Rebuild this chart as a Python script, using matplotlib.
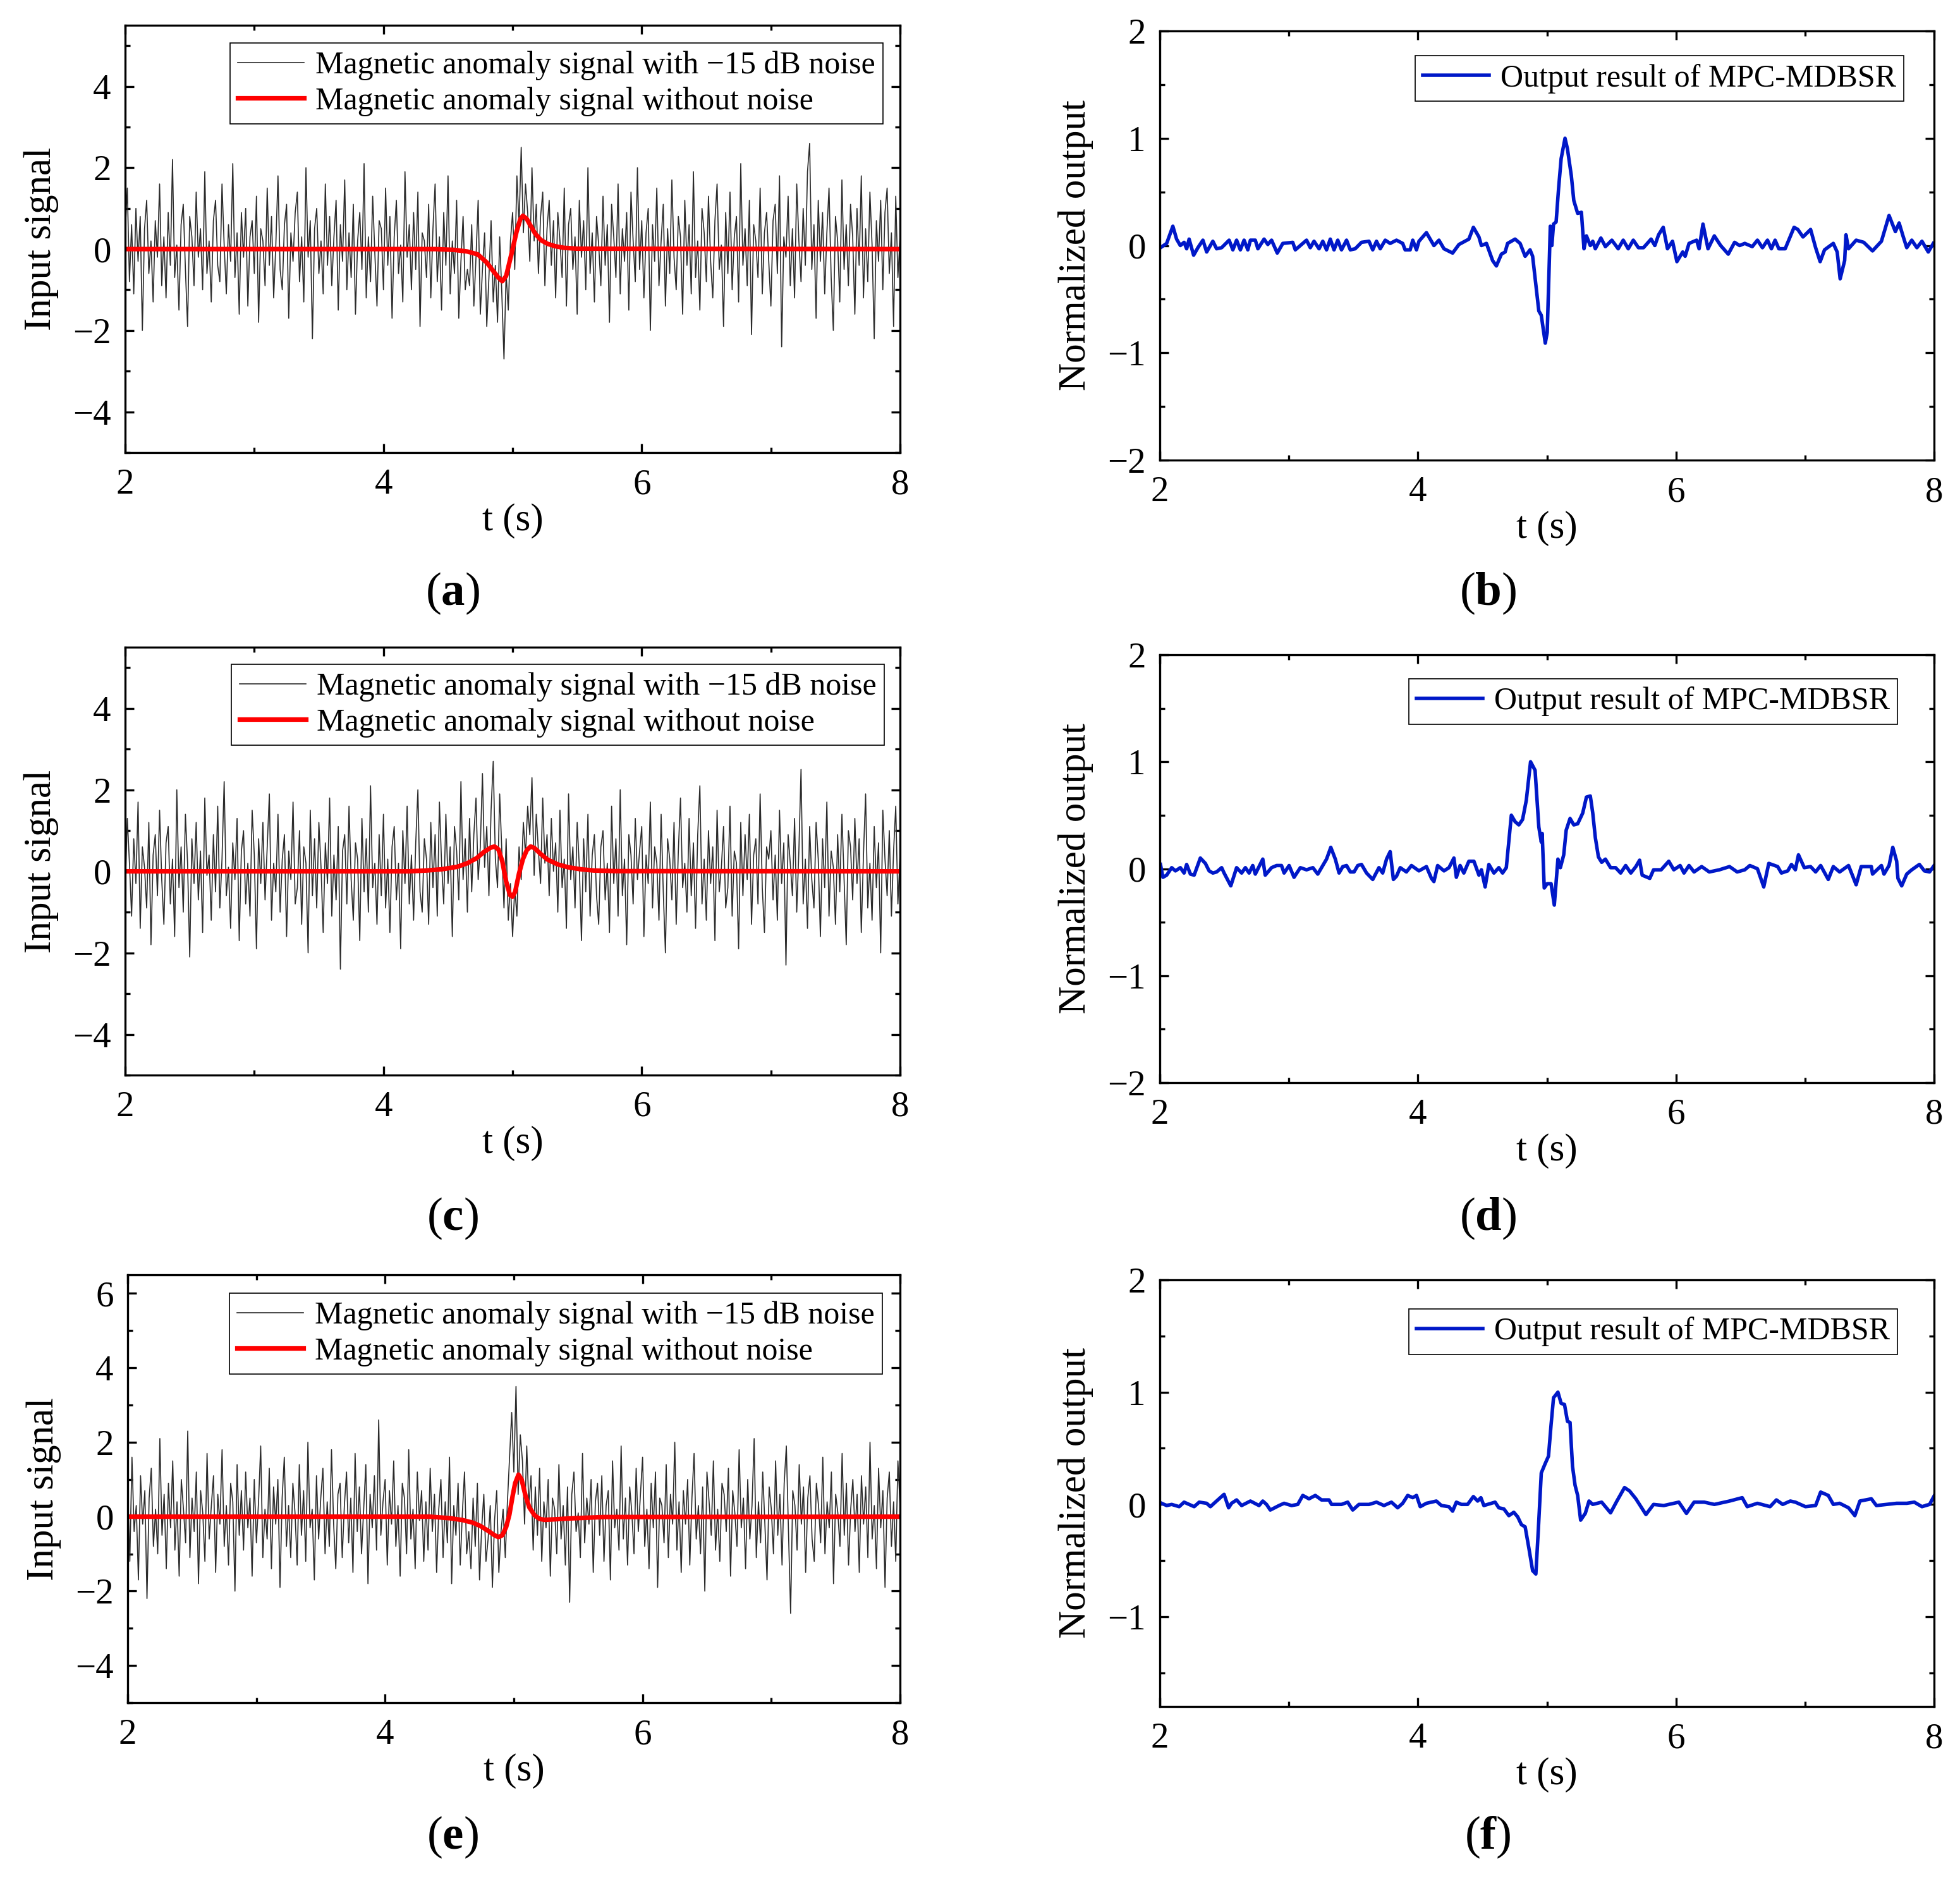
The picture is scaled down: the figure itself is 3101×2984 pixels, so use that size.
import numpy as np
import matplotlib.pyplot as plt
from matplotlib.ticker import MultipleLocator

plt.rcParams['font.family'] = ['Liberation Serif', 'DejaVu Serif']
plt.rcParams['mathtext.fontset'] = 'custom'
plt.rcParams['mathtext.rm'] = 'Liberation Serif'
plt.rcParams['mathtext.bf'] = 'Liberation Serif:bold'
plt.rcParams['axes.unicode_minus'] = True

# ---- input signals (noisy), sampled evenly over 2..8 s ----
noisy_a = [
    0.4, 1.5, -0.8, 0.6, -1.1, 1.0, -0.3, 0.8, -2.0, 0.5, 1.2, -0.6, 0.2, -1.3, 0.7, -0.2, 1.6, -0.9, 0.3, -1.2,
    0.9, -0.4, 2.2, -0.7, 0.1, -1.5, 0.6, 1.1, -0.5, -1.9, 0.8, 0.3, -0.9, 1.4, -0.2, 0.5, -1.0, 1.9, -0.6, 0.2,
    -1.3, 0.7, 1.2, -0.4, -0.8, 1.6, 0.1, -1.1, 0.6, -0.3, 2.1, -0.7, 0.4, -1.6, 0.9, -0.2, 1.0, -1.4, 0.3, 0.7,
    -0.6, 1.3, -1.8, 0.5, 0.2, -0.9, 1.5, -0.4, 0.8, -1.2, 0.1, 1.8, -0.5, -1.0, 0.6, 1.1, -1.7, 0.4, -0.3, 0.9,
    1.4, -0.8, 0.3, -1.3, 2.0, -0.2, 0.7, -2.2, 0.5, 1.0, -0.6, 0.2, -1.1, 1.6, -0.4, 0.8, -0.9, 0.3, 1.2, -1.5,
    0.6, -0.3, 1.7, -1.0, 0.4, -0.7, 1.1, -1.6, 0.2, 0.9, -0.5, 2.1, -1.2, 0.3, -0.8, 1.3, -0.1, -1.4, 0.7, 0.5,
    -1.0, 1.5, -0.4, 0.8, -1.7, 0.3, 1.2, -0.6, 0.1, -1.3, 1.9, -0.2, 0.6, -1.0, 0.9, -0.5, 1.4, -1.9, 0.4, 0.2,
    -0.7, 1.1, -1.2, 0.5, 1.6, -0.8, 0.3, -1.5, 0.9, -0.4, 1.8, -1.1, 0.2, -0.6, 1.2, -1.7, -0.3, 0.8, -1.0, -0.5,
    -0.9, 0.6, -1.4, -0.2, 1.2, -1.6, -0.5, 0.4, -1.9, -0.7, 0.7, -1.3, -0.4, -1.8, 0.3, -1.1, -2.7, -0.6, -1.5, 0.2,
    0.9, -0.5, 1.8, 0.6, 2.5, 0.4, 1.6, 0.9, -0.3, 2.0, 0.2, 1.1, -0.6, 0.8, 1.4, -0.9, 0.5, 1.2, -0.4, 0.7,
    -1.2, 0.9, 0.2, -0.7, 1.5, -1.4, 0.6, 1.0, -0.5, 0.3, -1.6, 1.2, -0.2, 0.7, -1.0, 2.0, -0.6, 0.4, -1.3, 0.8,
    0.1, -0.9, 1.3, -0.4, 0.6, -1.8, 1.1, 0.3, -0.7, 1.6, -1.1, 0.5, -0.3, 0.9, -1.5, 1.4, 0.2, -0.8, 2.0, -0.5,
    0.7, -1.2, 0.4, 1.0, -2.0, 0.6, -0.3, 1.5, -0.9, 0.2, 1.1, -1.4, 0.5, -0.6, 1.7, -0.2, -1.0, 0.8, 0.3, -1.6,
    1.2, -0.4, 0.6, -1.1, 1.9, -0.7, 0.2, -1.5, 1.0, 0.4, -0.8, 1.3, -0.3, -1.2, 0.7, 1.6, -0.5, 0.1, -1.9, 0.9,
    -0.6, 1.4, -1.0, 0.3, 0.8, -1.3, 2.1, -0.4, 0.5, -0.9, 1.2, -2.1, 0.6, 0.2, -0.7, 1.5, -1.1, 0.4, 0.9, -0.3,
    -1.4, 0.7, 1.1, -0.6, 1.8, -2.4, 0.3, -0.2, 1.3, -0.9, 0.5, -1.2, 1.6, 0.2, -0.8, 1.0, -0.4, 1.9, 2.6, -0.5,
    0.6, -1.7, 1.2, -0.3, 0.9, -1.1, 0.4, 1.5, -0.7, -2.0, 0.8, 0.2, -1.3, 1.7, -0.5, 0.6, -0.9, 1.1, 0.3, -1.6,
    1.0, -0.4, 1.8, -1.2, 0.5, -0.8, 1.4, 0.1, -2.2, 0.7, -0.3, 1.2, -1.0, 0.9, 1.5, -0.6, 0.4, -1.9, 1.3, -0.7,
    0.3,
]
noisy_c = [
    -0.5, 1.3, 0.2, -1.1, 0.8, -0.3, 1.7, -1.4, 0.6, 0.1, -0.9, 1.2, -1.8, 0.4, 0.9, -0.6, 1.5, -0.2, -1.3, 0.7,
    1.1, -0.8, 0.3, -1.6, 2.0, -0.4, 0.6, -1.0, 1.4, 0.2, -2.1, 0.8, -0.3, 1.2, -0.7, 0.5, -1.5, 1.8, -0.1, 0.4,
    -1.2, 0.9, -0.5, 1.6, -0.9, 0.3, 2.2, -0.6, 0.1, -1.4, 0.7, -0.2, 1.3, -1.7, 0.5, 1.0, -0.8, 0.2, -1.1, 1.5,
    0.4, -1.9, 0.8, -0.3, 1.2, -0.7, 0.6, 1.9, -1.2, 0.2, -0.5, 1.4, -1.0, 0.3, 0.9, -1.6, 0.5, -0.2, 1.7, -0.8,
    -0.4, 1.0, -1.3, 0.6, 0.2, -2.0, 1.5, -0.6, 0.8, -0.9, 1.2, 0.1, -1.5, 0.7, -0.3, 1.8, -1.1, 0.4, -0.7, 1.1,
    -2.4, 0.5, 0.9, -0.8, 1.6, -0.2, -1.2, 0.7, 0.3, -1.7, 1.3, -0.5, 0.8, -1.0, 2.1, -0.4, 0.2, -1.3, 0.9, -0.6,
    1.4, -0.9, 0.3, -1.5, 0.6, 1.1, -0.7, 0.2, -1.9, 1.0, -0.3, 1.6, -0.8, 0.4, -1.2, 0.7, 2.0, -0.5, -1.0, 0.8,
    0.3, -1.3, 1.2, -0.4, 0.9, -1.1, 1.7, 0.2, -0.8, 1.4, -0.3, 0.6, -1.6, 1.1, 0.5, -0.7, 2.2, -0.2, 0.8, -1.0,
    1.3, -0.5, 0.9, 1.8, -0.2, 0.6, 2.4, 0.1, 1.1, -0.6, 1.5, 2.7, 0.3, -0.4, 1.9, 0.5, -0.9, 0.8, -1.2, -0.3,
    -1.6, -0.4, -1.1, 0.6, -0.2, 1.2, 0.4, 1.6, 0.9, 2.3, -0.1, 1.4, 0.5, -0.3, 1.8, 0.2, 0.9, -0.6, 1.3, 0.0,
    0.7, -1.0, 1.5, -0.4, 0.3, -1.4, 1.9, -0.2, 0.6, -0.9, 1.2, 0.1, -1.7, 0.8, -0.5, 1.4, -1.1, 0.4, 0.9, -0.6,
    -1.3, 0.6, 1.0, -0.7, 0.2, -1.5, 1.6, -0.3, 0.8, -1.1, 2.0, -0.6, 0.3, -1.8, 0.9, 0.4, -0.8, 1.3, -0.2, 0.5,
    1.1, -1.6, 0.4, -0.3, 1.7, -0.9, 0.6, 0.2, -1.2, 1.4, -0.5, -2.0, 0.8, 0.3, -0.7, 1.2, -1.3, 0.5, 1.8, -0.4,
    0.2, -1.0, 1.3, -0.6, 0.7, -1.4, 0.9, 2.1, -0.8, 0.3, -1.2, 1.0, -0.3, 0.6, -1.7, 1.5, -0.5, 0.1, 1.1, -0.9,
    -0.4, 1.6, -1.1, 0.5, 0.2, -1.9, 1.2, -0.6, 0.9, -0.2, 1.4, -1.3, 0.4, 0.8, -0.8, 1.9, -0.4, -1.5, 0.6, 0.3,
    1.0, -0.7, 0.4, -1.2, 1.5, -0.3, 0.7, -2.3, 0.9, 0.2, -0.6, 1.3, -1.0, 0.5, 2.5, -0.8, 0.3, -1.4, 1.1, -0.2,
    -0.9, 1.2, 0.3, -1.6, 0.8, -0.4, 1.7, -1.1, 0.5, 0.1, -1.3, 0.9, -0.5, 1.4, -0.2, -1.8, 1.0, 0.6, -0.7, 1.3,
    -0.3, 0.8, -1.5, 0.4, 1.9, -0.9, 0.2, -1.2, 1.1, -0.4, 0.7, -2.0, 1.5, 0.3, -0.6, 1.0, -1.1, 0.5, 1.6, -0.8,
    0.4,
]
noisy_e = [
    0.8, -1.2, 1.6, -0.4, 0.3, -1.7, 1.1, -0.2, 0.7, -2.2, 0.5, 1.3, -0.8, 0.2, -1.0, 2.1, -0.5, 0.6, -1.4, 0.9,
    -0.3, 1.5, -0.9, 0.4, -1.6, 1.0, 0.2, -0.7, 2.3, -1.1, 0.5, -0.4, 1.2, -1.8, 0.7, 0.1, -1.2, 1.7, -0.6, 0.3,
    1.1, -1.5, 0.6, -0.2, 1.8, -0.8, 0.3, -1.3, 0.9, 0.4, -2.0, 1.4, -0.5, 0.7, -0.9, 1.2, -0.3, 0.5, -1.6, 1.0,
    -0.7, 0.4, 1.9, -1.1, 0.2, -0.6, 1.3, -1.4, 0.8, -0.2, 1.0, -1.9, 0.5, 1.6, -0.8, 0.3, -1.1, 0.9, 0.1, -1.3,
    1.4, -0.5, 0.7, -1.2, 2.0, -0.3, 0.2, -1.7, 1.1, -0.6, 0.5, 1.3, -1.0, 0.4, -0.8, 1.8, -0.2, -1.4, 0.6, 0.9,
    -1.1, 0.3, 1.2, -0.7, 0.5, -1.5, 1.7, -0.4, 0.8, -1.0, 0.2, 1.4, -1.8, 0.6, -0.3, 1.1, -0.9, 2.6, -0.5, 0.4,
    1.0, -1.3, 0.7, -0.2, 1.5, -0.8, 0.3, -1.6, 0.9, 0.5, -1.0, 1.8, -0.6, 0.2, -1.4, 1.2, -0.1, 0.7, -1.2, 0.4,
    -0.9, 1.3, -0.4, 0.6, -1.5, 0.2, 1.0, -1.1, 0.4, -0.7, 1.6, -1.8, 0.3, -0.5, 0.9, -1.3, 0.1, 1.2, -1.0, -0.4,
    -1.4, 0.5, -0.8, 0.9, -1.7, -0.3, 0.6, -1.2, -0.6, 0.3, -1.9, -0.1, 0.7, -1.5, -0.4, 0.2, -1.1, 0.4, 1.6, 2.8,
    1.2, 3.5, 0.6, 2.2, 1.5, -0.2, 1.9, 0.3, 1.1, -0.9, 0.8, -0.5, 1.3, -1.2, 0.4, -0.3, 1.0, -1.6, 0.5, 0.2,
    -1.0, 1.4, -0.6, 0.3, -1.3, 0.8, -2.3, 0.6, 1.2, -0.4, 0.1, -1.1, 1.7, -0.7, 0.5, -0.2, 1.0, -1.5, 0.4, 0.9,
    -0.5, 1.1, -1.2, 0.3, 0.7, -1.7, 1.5, -0.3, 0.2, -0.9, 1.9, -0.6, 0.5, -1.3, 0.8, 0.1, -1.0, 1.3, -0.4, 0.6,
    1.6, -0.8, 0.2, -1.4, 0.9, -0.3, 1.2, -1.9, 0.5, 0.3, -0.7, 1.4, -1.1, 0.6, -0.2, 2.0, -0.9, 0.4, -1.5, 0.7,
    -0.2, 1.0, -1.3, 0.5, 1.7, -0.6, 0.3, -1.0, 0.8, -2.0, 1.2, 0.4, -0.5, 1.5, -0.9, 0.2, -1.2, 0.9, 0.6, -0.4,
    1.3, -1.6, 0.7, 0.1, -0.8, 1.8, -0.3, 0.5, -1.4, 1.0, -0.6, 0.3, 2.1, -1.1, 0.4, -0.7, 1.2, -0.2, -1.7, 0.8,
    0.2, -1.0, 1.5, -0.5, 0.6, -1.3, 0.9, 1.9, -0.4, -2.6, 0.7, 0.3, -0.9, 1.4, -0.2, 0.8, -1.5, 0.5, 1.1, -0.6,
    -1.2, 0.9, 0.3, -0.7, 1.6, -1.0, 0.4, -0.3, 1.2, -1.8, 0.6, 0.1, -0.8, 1.7, -0.5, 0.9, -1.3, 0.2, 1.0, -0.4,
    0.6, -1.5, 1.1, -0.2, 0.8, -1.1, 2.0, -0.6, 0.3, -1.4, 1.3, -0.3, 0.7, -1.9, 0.5, 1.2, -0.8, 0.4, -1.2, 1.5,
    0.3,
]

# ---- clean magnetic anomaly signals ----
clean_a_t = [2.0, 4.4, 4.55, 4.65, 4.73, 4.80, 4.85, 4.89, 4.92, 4.95, 4.97, 5.00, 5.03, 5.06,
             5.08, 5.11, 5.14, 5.175, 5.22, 5.27, 5.33, 5.40, 5.50, 8.0]
clean_a_y = [0, 0, -0.02, -0.06, -0.13, -0.33, -0.54, -0.70, -0.79, -0.66, -0.40, 0.0, 0.42, 0.74,
             0.82, 0.74, 0.57, 0.38, 0.22, 0.13, 0.07, 0.03, 0.01, 0]
clean_c_t = [2.0, 4.2, 4.33, 4.45, 4.57, 4.65, 4.72, 4.78, 4.83, 4.86, 4.89, 4.92, 4.95, 4.98,
             5.00, 5.02, 5.05, 5.08, 5.11, 5.14, 5.17, 5.22, 5.27, 5.35, 5.43, 5.53, 5.63, 5.8, 8.0]
clean_c_y = [0, 0.0, 0.02, 0.05, 0.11, 0.2, 0.32, 0.48, 0.58, 0.61, 0.54, 0.25, -0.25, -0.58,
             -0.62, -0.50, -0.05, 0.30, 0.52, 0.61, 0.57, 0.42, 0.29, 0.17, 0.10, 0.05, 0.02, 0.005, 0]
clean_e_t = [2.0, 4.35, 4.5, 4.6, 4.68, 4.74, 4.80, 4.85, 4.88, 4.91, 4.94, 4.965, 4.99, 5.01,
             5.036, 5.06, 5.09, 5.12, 5.16, 5.20, 5.24, 5.32, 5.42, 5.55, 5.7, 8.0]
clean_e_y = [0, 0, -0.04, -0.09, -0.16, -0.25, -0.38, -0.50, -0.55, -0.50, -0.28, 0.05, 0.55, 0.90,
             1.13, 1.00, 0.57, 0.25, 0.04, -0.06, -0.085, -0.07, -0.05, -0.03, -0.01, 0]

# ---- MPC-MDBSR outputs ----
out_b_t = [2.005, 2.053, 2.101, 2.130, 2.159, 2.188, 2.208, 2.227, 2.262, 2.295, 2.334, 2.363, 2.411,
           2.440, 2.479, 2.537, 2.566, 2.595, 2.624, 2.653, 2.682, 2.702, 2.740, 2.760, 2.808, 2.837,
           2.866, 2.910, 2.953, 3.030, 3.050, 3.089, 3.137, 3.166, 3.195, 3.234, 3.263, 3.292, 3.321,
           3.350, 3.379, 3.408, 3.447, 3.476, 3.514, 3.563, 3.621, 3.650, 3.679, 3.708, 3.747, 3.785,
           3.834, 3.882, 3.901, 3.940, 3.960, 3.989, 4.008, 4.066, 4.124, 4.163, 4.202, 4.269, 4.318,
           4.395, 4.430, 4.473, 4.492, 4.531, 4.579, 4.608, 4.647, 4.676, 4.695, 4.753, 4.792, 4.831,
           4.869, 4.889, 4.918, 4.937, 4.956, 4.987, 5.002, 5.012, 5.026, 5.038, 5.051, 5.071, 5.090,
           5.110, 5.140, 5.159, 5.189, 5.208, 5.238, 5.267, 5.287, 5.306, 5.336, 5.355, 5.375, 5.418,
           5.453, 5.503, 5.552, 5.591, 5.630, 5.669, 5.709, 5.748, 5.807, 5.836, 5.865, 5.901, 5.934,
           5.973, 6.007, 6.052, 6.071, 6.101, 6.160, 6.179, 6.209, 6.248, 6.297, 6.346, 6.405, 6.454,
           6.493, 6.533, 6.591, 6.631, 6.670, 6.709, 6.739, 6.768, 6.797, 6.846, 6.915, 6.944, 6.984,
           7.043, 7.082, 7.117, 7.151, 7.219, 7.249, 7.272, 7.307, 7.317, 7.337, 7.396, 7.455, 7.523,
           7.592, 7.651, 7.700, 7.729, 7.759, 7.788, 7.827, 7.867, 7.906, 7.955, 7.994]
out_b_y = [-0.02, 0.02, 0.18, 0.06, 0.0, 0.03, -0.03, 0.06, -0.09, -0.02, 0.05, -0.06, 0.04,
           -0.03, -0.02, 0.05, -0.04, 0.05, -0.04, 0.05, -0.04, 0.05, 0.05, -0.03, 0.06, 0.01,
           0.05, -0.07, 0.02, 0.03, -0.04, 0.0, 0.05, -0.02, 0.04, -0.03, 0.04, -0.04, 0.06,
           -0.04, 0.05, -0.04, 0.05, -0.04, -0.03, 0.03, 0.04, -0.04, 0.04, -0.03, 0.05, 0.02,
           0.05, 0.02, -0.04, -0.04, 0.05, -0.04, 0.04, 0.12, 0.0, 0.05, -0.03, -0.07, 0.01,
           0.06, 0.17, 0.08, 0.0, 0.02, -0.14, -0.19, -0.08, -0.06, 0.02, 0.06, 0.02, -0.10,
           -0.04, -0.10, -0.41, -0.61, -0.65, -0.91, -0.81, -0.41, 0.18, 0.0, 0.20, 0.22, 0.53,
           0.81, 1.0, 0.90, 0.65, 0.42, 0.30, 0.31, -0.03, 0.09, 0.0, 0.04, -0.03, 0.07,
           -0.01, 0.05, -0.03, 0.05, -0.03, 0.05, -0.02, -0.02, 0.06, 0.0, 0.10, 0.17, -0.03,
           0.04, -0.15, -0.06, -0.10, 0.02, 0.05, -0.03, 0.20, -0.03, 0.09, 0.0, -0.08, 0.03,
           0.0, 0.02, -0.01, 0.05, -0.02, 0.05, -0.03, 0.05, -0.03, -0.03, 0.17, 0.15, 0.08,
           0.15, -0.02, -0.15, -0.04, 0.02, -0.06, -0.31, -0.14, 0.10, -0.03, 0.05, 0.03, -0.05,
           0.04, 0.28, 0.13, 0.21, 0.09, -0.02, 0.05, -0.02, 0.04, -0.06, 0.02]

out_d_t = [2.005, 2.024, 2.053, 2.092, 2.121, 2.159, 2.188, 2.208, 2.237, 2.266, 2.314, 2.353, 2.382,
           2.411, 2.440, 2.479, 2.498, 2.550, 2.595, 2.634, 2.663, 2.692, 2.720, 2.740, 2.798, 2.817,
           2.866, 2.905, 2.943, 2.963, 3.002, 3.040, 3.089, 3.137, 3.186, 3.224, 3.292, 3.325, 3.360,
           3.389, 3.418, 3.447, 3.476, 3.505, 3.534, 3.563, 3.602, 3.650, 3.698, 3.727, 3.757, 3.785,
           3.810, 3.834, 3.863, 3.911, 3.950, 4.008, 4.066, 4.105, 4.124, 4.153, 4.202, 4.241, 4.279,
           4.298, 4.327, 4.356, 4.395, 4.434, 4.473, 4.492, 4.521, 4.550, 4.589, 4.627, 4.656, 4.685,
           4.724, 4.753, 4.782, 4.811, 4.840, 4.873, 4.908, 4.937, 4.956, 4.963, 4.979, 5.002, 5.032,
           5.057, 5.085, 5.104, 5.130, 5.149, 5.179, 5.208, 5.238, 5.277, 5.306, 5.336, 5.355, 5.375,
           5.399, 5.424, 5.453, 5.493, 5.532, 5.571, 5.610, 5.650, 5.689, 5.718, 5.738, 5.797, 5.826,
           5.885, 5.944, 5.983, 6.032, 6.062, 6.101, 6.140, 6.199, 6.258, 6.336, 6.415, 6.474, 6.533,
           6.572, 6.631, 6.680, 6.719, 6.788, 6.817, 6.866, 6.895, 6.925, 6.949, 6.994, 7.043, 7.082,
           7.121, 7.180, 7.219, 7.268, 7.337, 7.396, 7.435, 7.514, 7.523, 7.592, 7.612, 7.651, 7.680,
           7.710, 7.720, 7.749, 7.788, 7.827, 7.886, 7.925, 7.965, 8.0]
out_d_y = [0.04, -0.08, -0.06, 0.01, -0.02, 0.01, -0.04, 0.04, -0.05, -0.06, 0.10, 0.05, -0.02,
           -0.04, -0.03, 0.01, -0.04, -0.16, 0.01, -0.04, 0.01, -0.04, 0.03, -0.05, 0.09, -0.06,
           0.01, 0.03, 0.03, -0.04, 0.03, -0.08, 0.01, -0.01, 0.01, -0.05, 0.09, 0.20, 0.09,
           -0.04, 0.02, 0.03, -0.03, -0.03, 0.03, 0.04, -0.04, -0.10, 0.01, -0.04, 0.09, 0.16,
           -0.10, -0.07, 0.01, -0.03, 0.03, -0.02, 0.02, -0.09, -0.12, 0.03, -0.02, 0.01, 0.10,
           -0.08, 0.03, -0.04, 0.07, 0.07, -0.06, -0.01, -0.17, 0.04, -0.04, 0.01, -0.04, 0.01,
           0.50, 0.44, 0.41, 0.46, 0.64, 1.00, 0.92, 0.39, 0.25, 0.33, -0.18, -0.14, -0.14,
           -0.34, 0.09, 0.01, 0.13, 0.36, 0.47, 0.41, 0.42, 0.52, 0.67, 0.68, 0.52, 0.29,
           0.11, 0.06, 0.09, 0.01, 0.01, -0.04, 0.03, -0.04, 0.02, 0.08, -0.06, -0.09, -0.01,
           -0.01, 0.07, -0.01, 0.03, -0.04, 0.03, -0.03, 0.02, -0.03, -0.01, 0.02, -0.03, -0.01,
           0.03, 0.0, -0.17, 0.05, 0.02, -0.04, -0.02, 0.04, -0.01, 0.13, 0.01, 0.02, -0.03,
           0.03, -0.10, 0.02, -0.03, 0.03, -0.15, 0.02, 0.02, -0.05, 0.03, -0.05, 0.03, 0.20,
           0.07, -0.09, -0.16, -0.05, -0.01, 0.04, -0.02, -0.03, 0.03]

out_f_t = [2.014, 2.053, 2.092, 2.150, 2.188, 2.266, 2.305, 2.363, 2.392, 2.430, 2.469, 2.498, 2.533,
           2.556, 2.595, 2.634, 2.702, 2.769, 2.798, 2.827, 2.856, 2.924, 2.963, 3.021, 3.069, 3.108,
           3.156, 3.205, 3.253, 3.311, 3.331, 3.408, 3.456, 3.495, 3.543, 3.621, 3.679, 3.737, 3.795,
           3.843, 3.882, 3.921, 3.960, 3.989, 4.018, 4.066, 4.143, 4.182, 4.240, 4.269, 4.298, 4.337,
           4.385, 4.430, 4.463, 4.488, 4.511, 4.569, 4.598, 4.627, 4.666, 4.705, 4.743, 4.773, 4.802,
           4.831, 4.860, 4.889, 4.914, 4.933, 4.956, 4.985, 5.012, 5.032, 5.051, 5.085, 5.110, 5.136,
           5.159, 5.179, 5.198, 5.218, 5.238, 5.261, 5.297, 5.326, 5.355, 5.424, 5.493, 5.542, 5.601,
           5.640, 5.689, 5.728, 5.767, 5.826, 5.905, 6.022, 6.081, 6.140, 6.219, 6.297, 6.415, 6.513,
           6.552, 6.631, 6.729, 6.778, 6.827, 6.886, 6.925, 7.003, 7.082, 7.121, 7.180, 7.219, 7.268,
           7.337, 7.386, 7.425, 7.514, 7.553, 7.710, 7.788, 7.847, 7.906, 7.965, 8.0]
out_f_y = [0.01, -0.01, 0.0, -0.02, 0.02, -0.02, 0.02, 0.01, -0.02, 0.02, 0.06, 0.09, -0.03,
           0.01, 0.04, -0.01, 0.03, -0.01, 0.03, 0.0, -0.05, -0.01, 0.01, -0.01, 0.0, 0.08,
           0.05, 0.08, 0.04, 0.04, 0.0, 0.0, 0.02, -0.05, 0.0, 0.0, 0.02, -0.01, 0.02,
           -0.03, 0.01, 0.08, 0.06, 0.08, -0.02, 0.01, 0.03, -0.01, -0.02, -0.06, 0.02, 0.0,
           0.0, 0.07, 0.03, 0.06, -0.01, 0.01, 0.02, -0.03, -0.04, -0.10, -0.07, -0.11, -0.18,
           -0.20, -0.39, -0.59, -0.62, -0.23, 0.28, 0.36, 0.43, 0.71, 0.95, 1.0, 0.90, 0.89,
           0.74, 0.73, 0.34, 0.17, 0.08, -0.14, -0.08, 0.03, 0.0, 0.02, -0.075, 0.03, 0.15,
           0.12, 0.05, -0.02, -0.09, 0.0, -0.01, 0.02, -0.08, 0.02, 0.02, 0.0, 0.03, 0.06,
           -0.02, 0.01, -0.02, 0.04, 0.0, 0.03, 0.02, -0.02, -0.01, 0.11, 0.08, 0.0, 0.01,
           -0.03, -0.10, 0.03, 0.05, -0.01, 0.01, 0.01, 0.02, -0.02, 0.0, 0.075]

legend_noisy = 'Magnetic anomaly signal with \u221215 dB noise'
legend_clean = 'Magnetic anomaly signal without noise'
legend_out = 'Output result of MPC-MDBSR'

FS = 20.5
LFS = 22
W, H = 3101, 2984
fig = plt.figure(figsize=(W / 200, H / 200), dpi=200)


def box(x0, y0, x1, y1):
    # pixel box (top-left origin) -> figure fraction rect
    return [x0 / W, 1 - y1 / H, (x1 - x0) / W, (y1 - y0) / H]


def style(ax, ylim, ymajor, yminor):
    ax.set_xlim(2, 8)
    ax.set_ylim(*ylim)
    ax.xaxis.set_major_locator(MultipleLocator(2))
    ax.xaxis.set_minor_locator(MultipleLocator(1))
    ax.yaxis.set_major_locator(MultipleLocator(ymajor))
    ax.yaxis.set_minor_locator(MultipleLocator(yminor))
    ax.tick_params(which='both', direction='in', top=True, right=True,
                   width=1.2, labelsize=FS)
    ax.tick_params(which='major', length=5)
    ax.tick_params(which='minor', length=3)
    ax.tick_params(axis='x', pad=9)
    ax.tick_params(axis='y', pad=8)
    for s in ax.spines.values():
        s.set_linewidth(1.2)
    ax.set_xlabel('t (s)', fontsize=LFS, labelpad=1)


def input_panel(rect, noisy, ct, cy, ylim, anchor):
    ax = fig.add_axes(rect)
    t = np.linspace(2, 8, len(noisy))
    ax.plot(t, noisy, color='#2b2b2b', lw=0.6, label=legend_noisy)
    ax.plot(ct, cy, color='#ff0000', lw=2.6, label=legend_clean)
    style(ax, ylim, 2, 1)
    ax.set_ylabel('Input signal', fontsize=LFS, labelpad=8)
    leg = ax.legend(loc='upper right', bbox_to_anchor=anchor, borderaxespad=0,
                    fontsize=18, fancybox=False, edgecolor='black', framealpha=1,
                    handlelength=2.1, handletextpad=0.35, labelspacing=0.2,
                    borderpad=0.25)
    leg.get_frame().set_linewidth(0.6)
    return ax


def output_panel(rect, t, y, ylim, anchor):
    ax = fig.add_axes(rect)
    ax.plot(t, y, color='#0018c8', lw=2.0, label=legend_out)
    style(ax, ylim, 1, 0.5)
    ax.set_ylabel('Normalized output', fontsize=LFS, labelpad=8)
    leg = ax.legend(loc='upper right', bbox_to_anchor=anchor, borderaxespad=0,
                    fontsize=18, fancybox=False, edgecolor='black', framealpha=1,
                    handlelength=2.1, handletextpad=0.35, borderpad=0.25)
    leg.get_frame().set_linewidth(0.6)
    return ax


input_panel(box(198, 40, 1424, 716), noisy_a, clean_a_t, clean_a_y, (-5, 5.5), (0.978, 0.958))
output_panel(box(1835, 49, 3060, 728), out_b_t, out_b_y, (-2, 2), (0.961, 0.942))
input_panel(box(198, 1024, 1424, 1701), noisy_c, clean_c_t, clean_c_y, (-5, 5.5), (0.98, 0.96))
output_panel(box(1835, 1036, 3060, 1713), out_d_t, out_d_y, (-2, 2), (0.953, 0.944))
input_panel(box(202, 2017, 1424, 2694), noisy_e, clean_e_t, clean_e_y, (-5, 6.5), (0.977, 0.957))
output_panel(box(1835, 2025, 3060, 2700), out_f_t, out_f_y, (-1.8, 2), (0.953, 0.932))

labels = ['a', 'b', 'c', 'd', 'e', 'f']
label_pos = [(716, 939), (2354, 939), (716, 1928), (2354, 1928), (716, 2907), (2354, 2907)]
for lab, (px, py) in zip(labels, label_pos):
    fig.text(px / W, 1 - py / H, r'($\mathbf{%s}$)' % lab, fontsize=27,
             ha='center', va='center')

fig.savefig('out.png', dpi=200)
